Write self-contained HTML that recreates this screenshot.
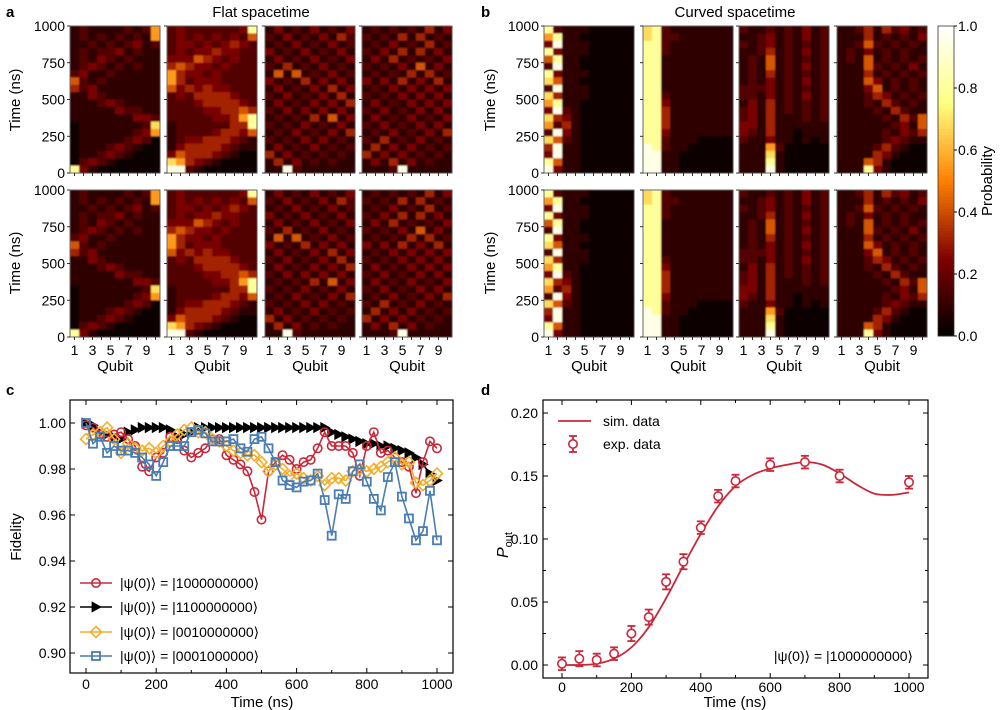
<!DOCTYPE html>
<html><head><meta charset="utf-8">
<style>
html,body{margin:0;padding:0;background:#fff;}
svg{display:block;font-family:"Liberation Sans","DejaVu Sans",sans-serif;}
</style></head>
<body>
<svg id="fig" width="1000" height="710" viewBox="0 0 1000 710" xmlns="http://www.w3.org/2000/svg">
<defs><filter id="blur" x="0" y="0" width="1" height="1"><feGaussianBlur stdDeviation="0.8"/></filter></defs>
<g id="root"></g>
</svg>
<script>
// ---------- DATA ----------
// Heatmap intensities: rows listed from t=975 ns (top) down to t=25 ns (bottom); 10 qubits each; digit 0..9
const flatQ1 = ["1211112126","1212121216","1121212312","1212231211","1213212111","1232121211","2311211111","5212111111","4231111111","1132111111","1112321111","1111132211","1111111332","0111111127","0111111236","0111112320","0111232100","0112321000","0232100000","8310000000"];
const flatQ12 = ["2322222238","2323232325","2332323432","2323343322","3335432322","4543323222","6433232222","6423332222","5343433222","2324444322","2223444432","2222334454","2222233468","1222222448","1222234435","1233444321","1344443211","3544432100","7643210000","9921000000"];
const flatQ3 = ["1312131213","2131213142","1213121312","3121312131","1312131213","2141213121","1515121312","3121413131","1312131413","2131213141","1312131314","2131313131","1212141513","2121312131","1213121314","2121313121","1312131212","4131212121","1413121211","1192111111"];
const flatQ4 = ["1212121413","2121414121","1213121412","2131414131","1314121213","2121315131","1212141412","3131413141","1213131313","2121313131","1312131313","2131213131","1312131213","2131213131","1213121314","2141213121","1413131212","4131312121","1314131211","1112911111"];
const curvQ1 = ["8211100000","6811000000","3911100000","8311100000","5811000000","2911000000","8311100000","7511000000","2911100000","7411100000","6811000000","3921000000","7431000000","6241000000","2931000000","7521000000","4911000000","3911000000","8511000000","9311000000"];
const curvQ12 = ["7821111111","7822111111","8821111111","8821111111","8811111111","8811111111","8811111111","8811111111","8811111111","8821111111","8831111111","8841111111","8841111111","8841111111","8831111111","8821110000","9821100000","9911000000","9911000000","9911000000"];
const curvQ3 = ["2112121312","1123121312","2123121212","1124121312","1215121212","1215121312","1214121212","1213121312","2223121212","2213121312","1314121212","2314121212","2314111212","3314111111","3214110111","2113110101","1116200000","1117100000","1118100000","1119100000"];
const curvQ4 = ["1124142312","1114121213","1125212121","1213121211","1215121212","1115212131","1114121212","1115312121","1113512121","1112431212","1112142121","1111214211","1111121425","1111112315","1111121324","1111123211","1111242100","1111431000","1115410000","1118310000"];
const digitLevels = [0.03,0.09,0.16,0.24,0.32,0.42,0.55,0.68,0.80,0.95];

// Panel c: fidelity vs time (0..1000 ns, step 20)
const fidTimes = Array.from({length:51},(_,i)=>i*20);
const fidRed = [0.999,0.998,0.995,0.994,0.995,0.996,0.993,0.990,0.981,0.979,0.985,0.987,0.994,0.993,0.988,0.985,0.987,0.989,0.993,0.993,0.986,0.984,0.982,0.979,0.970,0.958,0.979,0.983,0.986,0.984,0.980,0.983,0.984,0.989,0.996,0.990,0.990,0.990,0.987,0.977,0.990,0.996,0.987,0.988,0.985,0.983,0.981,0.9695,0.983,0.992,0.989];
const fidBlack = [1.0,0.999,0.996,0.995,0.994,0.993,0.996,0.997,0.998,0.998,0.998,0.998,0.997,0.994,0.995,0.996,0.998,0.998,0.998,0.998,0.998,0.998,0.998,0.998,0.998,0.998,0.998,0.998,0.998,0.998,0.998,0.998,0.998,0.998,0.998,0.996,0.995,0.994,0.993,0.992,0.991,0.991,0.990,0.990,0.989,0.988,0.987,0.985,0.982,0.978,0.975];
const fidOrange = [0.993,0.995,0.996,0.998,0.993,0.987,0.991,0.989,0.988,0.989,0.987,0.990,0.992,0.995,0.997,0.998,0.996,0.996,0.993,0.992,0.990,0.988,0.987,0.986,0.986,0.983,0.979,0.982,0.980,0.977,0.978,0.976,0.975,0.977,0.973,0.976,0.976,0.975,0.979,0.980,0.979,0.980,0.981,0.983,0.985,0.982,0.983,0.974,0.973,0.975,0.978];
const fidBlue = [1.0,0.991,0.994,0.987,0.990,0.988,0.988,0.987,0.985,0.982,0.977,0.983,0.990,0.990,0.990,0.996,0.997,0.9955,0.992,0.992,0.992,0.993,0.989,0.9875,0.993,0.994,0.989,0.983,0.975,0.973,0.972,0.9745,0.975,0.978,0.9665,0.951,0.969,0.967,0.979,0.982,0.9745,0.967,0.962,0.9765,0.983,0.968,0.9585,0.949,0.953,0.9705,0.949];
const fidTicksX = [0,200,400,600,800,1000];
const fidTicksY = [0.90,0.92,0.94,0.96,0.98,1.00];

// Panel d
const expT = [0,50,100,150,200,250,300,350,400,450,500,600,700,800,1000];
const expP = [0.001,0.005,0.004,0.009,0.025,0.038,0.066,0.082,0.109,0.134,0.146,0.159,0.161,0.150,0.145];
const expErr = [0.005,0.006,0.005,0.005,0.006,0.006,0.006,0.006,0.005,0.005,0.005,0.005,0.005,0.005,0.005];
const simT = [0,50,100,150,200,250,300,350,400,450,500,550,600,650,700,750,800,850,900,950,1000];
const simP = [0.0,0.0,0.001,0.005,0.014,0.030,0.053,0.079,0.104,0.126,0.142,0.151,0.156,0.159,0.161,0.159,0.152,0.143,0.136,0.135,0.137];
const pTicksX = [0,200,400,600,800,1000];
const pTicksY = [0.00,0.05,0.10,0.15,0.20];
const cbTicks = [0.0,0.2,0.4,0.6,0.8,1.0];

// ---------- DRAWING ----------
const NS="http://www.w3.org/2000/svg";
const root=document.getElementById('root');
function el(tag,attrs,parent,text){const e=document.createElementNS(NS,tag);for(const k in attrs)e.setAttribute(k,attrs[k]);if(text!==undefined)e.textContent=text;(parent||root).appendChild(e);return e;}
function hot(p){p=Math.max(0,Math.min(1,p));const r=Math.min(1,2*p),g=Math.max(0,Math.min(1,2*p-0.5)),b=Math.max(0,Math.min(1,2*p-1));return `rgb(${Math.round(r*255)},${Math.round(g*255)},${Math.round(b*255)})`;}

function heatmap(x0,y0,w,h,rows,name,showY,showX){
  const g=el('g',{});
  
  
  const cells=el('g',{filter:'url(#blur)'},g);
  const nr=rows.length,nc=rows[0].length;
  const tScale=t=>y0+h-(t/1000)*h;
  rows.forEach((row,ri)=>{
    for(let c=0;c<nc;c++){
      const v=digitLevels[parseInt(row[c])];
      const r=el('rect',{x:x0+c*w/nc,y:y0+ri*h/nr,width:w/nc+0.4,height:h/nr+0.4,fill:hot(v)},cells);
      
      
    }
  });
  el('rect',{x:x0,y:y0,width:w,height:h,fill:'none',stroke:'#444','stroke-width':0.8},g);
  [0,250,500,750,1000].forEach(t=>{
    const y=tScale(t);
    el('line',{x1:x0-3,x2:x0,y1:y,y2:y,stroke:'#000','stroke-width':0.8},g);
    if(showY){const tx=el('text',{x:x0-5,y:y+5,'font-size':14,'text-anchor':'end'},g,String(t));
      }
  });
  for(let c=0;c<nc;c++){
    const x=x0+(c+0.5)*w/nc;
    el('line',{x1:x,x2:x,y1:y0+h,y2:y0+h+3,stroke:'#000','stroke-width':0.8},g);
    if(showX && c%2===0){const tx=el('text',{x:x,y:y0+h+18,'font-size':14,'text-anchor':'middle'},g,String(c+1));
      }
  }
  if(showX){const q=el('text',{x:x0+w/2,y:y0+h+34,'font-size':15,'text-anchor':'middle'},g,'Qubit');
    }
}
function label(x,y,txt,size,name,opts){const t=el('text',Object.assign({x:x,y:y,'font-size':size},opts||{}),root,txt);return t;}

// panel labels & titles
label(6,17,'a',15,'panel-a-label',{'font-weight':'bold'});
label(481,17,'b',15,'panel-b-label',{'font-weight':'bold'});
label(6,395,'c',15,'panel-c-label',{'font-weight':'bold'});
label(481,395,'d',15,'panel-d-label',{'font-weight':'bold'});
label(261,17,'Flat spacetime',15,'flat-title',{'text-anchor':'middle'});
label(735,17,'Curved spacetime',15,'curved-title',{'text-anchor':'middle'});

const aX=[70,167,265,362], bX=[544,643,739,837], pw=90;
const flat=[flatQ1,flatQ12,flatQ3,flatQ4], curv=[curvQ1,curvQ12,curvQ3,curvQ4];
for(let i=0;i<4;i++){
  heatmap(aX[i],26,pw,147,flat[i],'flat-heatmap-top-'+(i+1),i===0,false);
  heatmap(aX[i],190,pw,147,flat[i],'flat-heatmap-bottom-'+(i+1),i===0,true);
  heatmap(bX[i],26,pw,147,curv[i],'curved-heatmap-top-'+(i+1),i===0,false);
  heatmap(bX[i],190,pw,147,curv[i],'curved-heatmap-bottom-'+(i+1),i===0,true);
}
[[20,100],[20,263],[495,100],[495,263]].forEach(([x,y],k)=>{
  label(x,y,'Time (ns)',15,'time-axis-title',{'text-anchor':'middle',transform:`rotate(-90 ${x} ${y})`});
});

// colorbar
const cb=el('g',{});
const cbX=938,cbY=26,cbW=16,cbH=310;
for(let i=0;i<100;i++){el('rect',{x:cbX,y:cbY+cbH-(i+1)*cbH/100,width:cbW,height:cbH/100+0.5,fill:hot((i+0.5)/100)},cb);}
el('rect',{x:cbX,y:cbY,width:cbW,height:cbH,fill:'none',stroke:'#333','stroke-width':0.8},cb);
cbTicks.forEach(v=>{const y=cbY+cbH-v*cbH;el('line',{x1:cbX+cbW,x2:cbX+cbW+3,y1:y,y2:y,stroke:'#000'},cb);
  const t=el('text',{x:cbX+cbW+4,y:y+5,'font-size':14},cb,v.toFixed(1));});
label(992,181,'Probability',15,'colorbar-title',{'text-anchor':'middle',transform:'rotate(-90 992 181)'});

// ---------- panel c ----------
const cL=70,cR=453,cT=400,cB=673;
const cx=t=>86+t*(437-86)/1000;
const cy=v=>423+(1.0-v)*2300;
const gc=el('g',{});
el('rect',{x:cL,y:cT,width:cR-cL,height:cB-cT,fill:'none',stroke:'#000','stroke-width':1.2},gc);
fidTicksX.forEach(t=>{const x=cx(t);el('line',{x1:x,x2:x,y1:cB,y2:cB-5,stroke:'#000'},gc);el('line',{x1:x,x2:x,y1:cT,y2:cT+5,stroke:'#000'},gc);
  const l=el('text',{x:x,y:cB+16,'font-size':14,'text-anchor':'middle'},gc,String(t));});
for(let t=100;t<1000;t+=200){const x=cx(t);el('line',{x1:x,x2:x,y1:cB,y2:cB-3,stroke:'#000'},gc);el('line',{x1:x,x2:x,y1:cT,y2:cT+3,stroke:'#000'},gc);}
fidTicksY.forEach(v=>{const y=cy(v);el('line',{x1:cL,x2:cL+5,y1:y,y2:y,stroke:'#000'},gc);el('line',{x1:cR,x2:cR-5,y1:y,y2:y,stroke:'#000'},gc);
  const l=el('text',{x:cL-4,y:y+5,'font-size':14,'text-anchor':'end'},gc,v.toFixed(2));});
label(262,707,'Time (ns)',15,'x-axis-title',{'text-anchor':'middle'});
label(21,537,'Fidelity',15,'y-axis-title',{'text-anchor':'middle',transform:'rotate(-90 21 537)'});

function marker(type,x,y,color,parent){
  let m;
  if(type==='circle')m=el('circle',{cx:x,cy:y,r:4.2,fill:'none',stroke:color,'stroke-width':1.6},parent);
  else if(type==='tri')m=el('polygon',{points:`${x-4},${y-5} ${x+5},${y} ${x-4},${y+5}`,fill:'#000',stroke:'#000','stroke-width':0.8},parent);
  else if(type==='diamond')m=el('polygon',{points:`${x},${y-5.5} ${x+5.5},${y} ${x},${y+5.5} ${x-5.5},${y}`,fill:'none',stroke:color,'stroke-width':1.6},parent);
  else m=el('rect',{x:x-4,y:y-4,width:8,height:8,fill:'none',stroke:color,'stroke-width':1.8},parent);
  
  
}
const series=[[fidBlack,'#000','tri'],[fidRed,'#c8283a','circle'],[fidOrange,'#f3ae2c','diamond'],[fidBlue,'#4a7db3','square']];
series.forEach(([vals,col,mk])=>{
  const pts=vals.map((v,i)=>`${cx(fidTimes[i])},${cy(v)}`).join(' ');
  const pl=el('polyline',{points:pts,fill:'none',stroke:col,'stroke-width':1.6},gc);
  
  vals.forEach((v,i)=>marker(mk,cx(fidTimes[i]),cy(v),col,gc));
});
// legend c
const legC=[['#c8283a','circle','1000000000',583],['#000','tri','1100000000',607],['#f3ae2c','diamond','0010000000',632],['#4a7db3','square','0001000000',656]];
legC.forEach(([col,mk,st,y])=>{
  const g=el('g',{},gc);
  el('line',{x1:80,x2:112,y1:y,y2:y,stroke:col,'stroke-width':1.6},g);
  marker(mk,96,y,col,g);
  el('text',{x:120,y:y+5,'font-size':14},g,'|ψ(0)⟩ = |'+st+'⟩');
});

// ---------- panel d ----------
const dL=543,dR=928,dT=400,dB=678;
const dx=t=>562+t*(909-562)/1000;
const dy=v=>665-v*(665-413)/0.2;
const gd=el('g',{});
el('rect',{x:dL,y:dT,width:dR-dL,height:dB-dT,fill:'none',stroke:'#000','stroke-width':1.2},gd);
pTicksX.forEach(t=>{const x=dx(t);el('line',{x1:x,x2:x,y1:dB,y2:dB-5,stroke:'#000'},gd);el('line',{x1:x,x2:x,y1:dT,y2:dT+5,stroke:'#000'},gd);
  const l=el('text',{x:x,y:dB+14,'font-size':14,'text-anchor':'middle'},gd,String(t));});
for(let t=100;t<1000;t+=200){const x=dx(t);el('line',{x1:x,x2:x,y1:dB,y2:dB-3,stroke:'#000'},gd);el('line',{x1:x,x2:x,y1:dT,y2:dT+3,stroke:'#000'},gd);}
pTicksY.forEach(v=>{const y=dy(v);el('line',{x1:dL,x2:dL+5,y1:y,y2:y,stroke:'#000'},gd);el('line',{x1:dR,x2:dR-5,y1:y,y2:y,stroke:'#000'},gd);
  const l=el('text',{x:dL-5,y:y+5,'font-size':14,'text-anchor':'end'},gd,v.toFixed(2));});
for(let v=0.025;v<0.2;v+=0.05){const y=dy(v);el('line',{x1:dL,x2:dL+3,y1:y,y2:y,stroke:'#000'},gd);el('line',{x1:dR,x2:dR-3,y1:y,y2:y,stroke:'#000'},gd);}
label(735,707,'Time (ns)',15,'x-axis-title',{'text-anchor':'middle'});
const pl=label(508,545,'',16,'y-axis-title',{'text-anchor':'middle',transform:'rotate(-90 508 545)','font-style':'italic'});
el('tspan',{},pl,'P');el('tspan',{'font-size':11,'font-style':'normal',dy:4},pl,'out');
// sim curve (smooth via Catmull-Rom)
const sp=simT.map((t,i)=>[dx(t),dy(simP[i])]);
let d=`M${sp[0][0]},${sp[0][1]}`;
for(let i=0;i<sp.length-1;i++){const p0=sp[Math.max(0,i-1)],p1=sp[i],p2=sp[i+1],p3=sp[Math.min(sp.length-1,i+2)];
  d+=` C${p1[0]+(p2[0]-p0[0])/6},${p1[1]+(p2[1]-p0[1])/6} ${p2[0]-(p3[0]-p1[0])/6},${p2[1]-(p3[1]-p1[1])/6} ${p2[0]},${p2[1]}`;}
const sim=el('path',{d:d,fill:'none',stroke:'#c8283a','stroke-width':1.8},gd);

expT.forEach((t,i)=>{
  const g=el('g',{},gd);
  const x=dx(t),y=dy(expP[i]),y1=dy(expP[i]+expErr[i]),y2=dy(expP[i]-expErr[i]);
  el('line',{x1:x,x2:x,y1:y1,y2:y2,stroke:'#c8283a','stroke-width':1.8},g);
  el('line',{x1:x-4,x2:x+4,y1:y1,y2:y1,stroke:'#c8283a','stroke-width':1.8},g);
  el('line',{x1:x-4,x2:x+4,y1:y2,y2:y2,stroke:'#c8283a','stroke-width':1.8},g);
  el('circle',{cx:x,cy:y,r:4.2,fill:'#fff',stroke:'#c8283a','stroke-width':1.6},g);
});
const lg1=el('g',{},gd);
el('line',{x1:558,x2:591,y1:421,y2:421,stroke:'#c8283a','stroke-width':1.8},lg1);
el('text',{x:603,y:426,'font-size':14},lg1,'sim. data');
const lg2=el('g',{},gd);
el('line',{x1:573,x2:573,y1:436,y2:452,stroke:'#c8283a','stroke-width':1.8},lg2);
el('line',{x1:569,x2:577,y1:436,y2:436,stroke:'#c8283a','stroke-width':1.8},lg2);
el('line',{x1:569,x2:577,y1:452,y2:452,stroke:'#c8283a','stroke-width':1.8},lg2);
el('circle',{cx:573,cy:444,r:4.2,fill:'#fff',stroke:'#c8283a','stroke-width':1.6},lg2);
el('text',{x:603,y:449,'font-size':14},lg2,'exp. data');
label(913,661,'|ψ(0)⟩ = |1000000000⟩',14,'state-annotation',{'text-anchor':'end'});
</script>
</body></html>
